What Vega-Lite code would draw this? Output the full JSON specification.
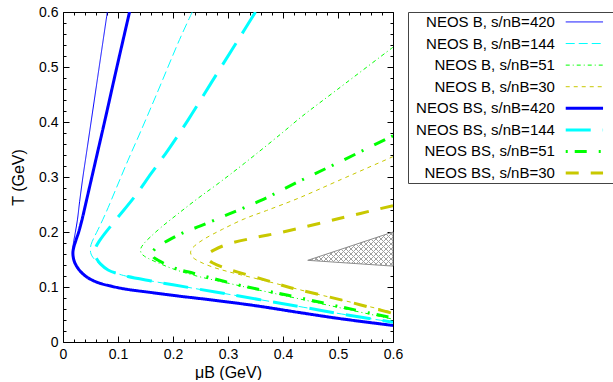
{
  "$schema": "https://vega.github.io/schema/vega-lite/v6.json",
  "padding": {"left": 10, "top": 5, "right": 0, "bottom": 0},
  "config": {
    "font": "Liberation Sans",
    "view": {"stroke": null},
    "axis": {
      "domainColor": "#000",
      "tickColor": "#000",
      "labelColor": "#000",
      "titleColor": "#000",
      "labelFont": "Liberation Sans",
      "titleFont": "Liberation Sans",
      "labelFontSize": 14,
      "titleFontSize": 16,
      "titleFontWeight": "normal",
      "grid": false,
      "labelOverlap": false,
      "labelFlush": false
    }
  },
  "datasets": {
    "curves": [
      {"series": "NEOS B, s/nB=420", "i": 0, "mu": 0.0806, "T": 0.6},
      {"series": "NEOS B, s/nB=420", "i": 1, "mu": 0.0658, "T": 0.5},
      {"series": "NEOS B, s/nB=420", "i": 2, "mu": 0.054, "T": 0.42},
      {"series": "NEOS B, s/nB=420", "i": 3, "mu": 0.0435, "T": 0.349},
      {"series": "NEOS B, s/nB=420", "i": 4, "mu": 0.0362, "T": 0.3},
      {"series": "NEOS B, s/nB=420", "i": 5, "mu": 0.0302, "T": 0.255},
      {"series": "NEOS B, s/nB=420", "i": 6, "mu": 0.0262, "T": 0.222},
      {"series": "NEOS B, s/nB=420", "i": 7, "mu": 0.022, "T": 0.197},
      {"series": "NEOS B, s/nB=420", "i": 8, "mu": 0.019, "T": 0.18},
      {"series": "NEOS B, s/nB=420", "i": 9, "mu": 0.0178, "T": 0.168},
      {"series": "NEOS B, s/nB=420", "i": 10, "mu": 0.018, "T": 0.16},
      {"series": "NEOS B, s/nB=420", "i": 11, "mu": 0.0195, "T": 0.15},
      {"series": "NEOS B, s/nB=420", "i": 12, "mu": 0.024, "T": 0.139},
      {"series": "NEOS B, s/nB=420", "i": 13, "mu": 0.033, "T": 0.127},
      {"series": "NEOS B, s/nB=420", "i": 14, "mu": 0.045, "T": 0.117},
      {"series": "NEOS B, s/nB=420", "i": 15, "mu": 0.0636, "T": 0.108},
      {"series": "NEOS B, s/nB=420", "i": 16, "mu": 0.09, "T": 0.101},
      {"series": "NEOS B, s/nB=420", "i": 17, "mu": 0.115, "T": 0.096},
      {"series": "NEOS B, s/nB=420", "i": 18, "mu": 0.16, "T": 0.09},
      {"series": "NEOS B, s/nB=420", "i": 19, "mu": 0.206, "T": 0.084},
      {"series": "NEOS B, s/nB=420", "i": 20, "mu": 0.27, "T": 0.0765},
      {"series": "NEOS B, s/nB=420", "i": 21, "mu": 0.35, "T": 0.066},
      {"series": "NEOS B, s/nB=420", "i": 22, "mu": 0.427, "T": 0.054},
      {"series": "NEOS B, s/nB=420", "i": 23, "mu": 0.5, "T": 0.043},
      {"series": "NEOS B, s/nB=420", "i": 24, "mu": 0.6, "T": 0.03},

      {"series": "NEOS B, s/nB=144", "i": 0, "mu": 0.235, "T": 0.6},
      {"series": "NEOS B, s/nB=144", "i": 1, "mu": 0.212, "T": 0.55},
      {"series": "NEOS B, s/nB=144", "i": 2, "mu": 0.17, "T": 0.45},
      {"series": "NEOS B, s/nB=144", "i": 3, "mu": 0.14, "T": 0.38},
      {"series": "NEOS B, s/nB=144", "i": 4, "mu": 0.118, "T": 0.33},
      {"series": "NEOS B, s/nB=144", "i": 5, "mu": 0.097, "T": 0.28},
      {"series": "NEOS B, s/nB=144", "i": 6, "mu": 0.078, "T": 0.235},
      {"series": "NEOS B, s/nB=144", "i": 7, "mu": 0.064, "T": 0.205},
      {"series": "NEOS B, s/nB=144", "i": 8, "mu": 0.0555, "T": 0.188},
      {"series": "NEOS B, s/nB=144", "i": 9, "mu": 0.051, "T": 0.177},
      {"series": "NEOS B, s/nB=144", "i": 10, "mu": 0.0497, "T": 0.168},
      {"series": "NEOS B, s/nB=144", "i": 11, "mu": 0.051, "T": 0.16},
      {"series": "NEOS B, s/nB=144", "i": 12, "mu": 0.055, "T": 0.153},
      {"series": "NEOS B, s/nB=144", "i": 13, "mu": 0.062, "T": 0.146},
      {"series": "NEOS B, s/nB=144", "i": 14, "mu": 0.07, "T": 0.139},
      {"series": "NEOS B, s/nB=144", "i": 15, "mu": 0.082, "T": 0.131},
      {"series": "NEOS B, s/nB=144", "i": 16, "mu": 0.1, "T": 0.124},
      {"series": "NEOS B, s/nB=144", "i": 17, "mu": 0.118, "T": 0.119},
      {"series": "NEOS B, s/nB=144", "i": 18, "mu": 0.16, "T": 0.111},
      {"series": "NEOS B, s/nB=144", "i": 19, "mu": 0.2, "T": 0.104},
      {"series": "NEOS B, s/nB=144", "i": 20, "mu": 0.3, "T": 0.087},
      {"series": "NEOS B, s/nB=144", "i": 21, "mu": 0.427, "T": 0.065},
      {"series": "NEOS B, s/nB=144", "i": 22, "mu": 0.5, "T": 0.052},
      {"series": "NEOS B, s/nB=144", "i": 23, "mu": 0.6, "T": 0.036},

      {"series": "NEOS B, s/nB=51", "i": 0, "mu": 0.6, "T": 0.536},
      {"series": "NEOS B, s/nB=51", "i": 1, "mu": 0.5, "T": 0.46},
      {"series": "NEOS B, s/nB=51", "i": 2, "mu": 0.433, "T": 0.409},
      {"series": "NEOS B, s/nB=51", "i": 3, "mu": 0.397, "T": 0.379},
      {"series": "NEOS B, s/nB=51", "i": 4, "mu": 0.33, "T": 0.325},
      {"series": "NEOS B, s/nB=51", "i": 5, "mu": 0.282, "T": 0.288},
      {"series": "NEOS B, s/nB=51", "i": 6, "mu": 0.245, "T": 0.261},
      {"series": "NEOS B, s/nB=51", "i": 7, "mu": 0.209, "T": 0.233},
      {"series": "NEOS B, s/nB=51", "i": 8, "mu": 0.179, "T": 0.209},
      {"series": "NEOS B, s/nB=51", "i": 9, "mu": 0.16, "T": 0.192},
      {"series": "NEOS B, s/nB=51", "i": 10, "mu": 0.148, "T": 0.18},
      {"series": "NEOS B, s/nB=51", "i": 11, "mu": 0.1415, "T": 0.17},
      {"series": "NEOS B, s/nB=51", "i": 12, "mu": 0.142, "T": 0.162},
      {"series": "NEOS B, s/nB=51", "i": 13, "mu": 0.148, "T": 0.156},
      {"series": "NEOS B, s/nB=51", "i": 14, "mu": 0.155, "T": 0.152},
      {"series": "NEOS B, s/nB=51", "i": 15, "mu": 0.175, "T": 0.143},
      {"series": "NEOS B, s/nB=51", "i": 16, "mu": 0.2, "T": 0.133},
      {"series": "NEOS B, s/nB=51", "i": 17, "mu": 0.239, "T": 0.121},
      {"series": "NEOS B, s/nB=51", "i": 18, "mu": 0.3, "T": 0.107},
      {"series": "NEOS B, s/nB=51", "i": 19, "mu": 0.358, "T": 0.094},
      {"series": "NEOS B, s/nB=51", "i": 20, "mu": 0.427, "T": 0.079},
      {"series": "NEOS B, s/nB=51", "i": 21, "mu": 0.5, "T": 0.063},
      {"series": "NEOS B, s/nB=51", "i": 22, "mu": 0.6, "T": 0.0415},

      {"series": "NEOS B, s/nB=30", "i": 0, "mu": 0.6, "T": 0.337},
      {"series": "NEOS B, s/nB=30", "i": 1, "mu": 0.5, "T": 0.293},
      {"series": "NEOS B, s/nB=30", "i": 2, "mu": 0.427, "T": 0.261},
      {"series": "NEOS B, s/nB=30", "i": 3, "mu": 0.37, "T": 0.239},
      {"series": "NEOS B, s/nB=30", "i": 4, "mu": 0.33, "T": 0.224},
      {"series": "NEOS B, s/nB=30", "i": 5, "mu": 0.29, "T": 0.205},
      {"series": "NEOS B, s/nB=30", "i": 6, "mu": 0.258, "T": 0.188},
      {"series": "NEOS B, s/nB=30", "i": 7, "mu": 0.242, "T": 0.177},
      {"series": "NEOS B, s/nB=30", "i": 8, "mu": 0.234, "T": 0.169},
      {"series": "NEOS B, s/nB=30", "i": 9, "mu": 0.232, "T": 0.162},
      {"series": "NEOS B, s/nB=30", "i": 10, "mu": 0.236, "T": 0.154},
      {"series": "NEOS B, s/nB=30", "i": 11, "mu": 0.2485, "T": 0.146},
      {"series": "NEOS B, s/nB=30", "i": 12, "mu": 0.27, "T": 0.137},
      {"series": "NEOS B, s/nB=30", "i": 13, "mu": 0.3, "T": 0.128},
      {"series": "NEOS B, s/nB=30", "i": 14, "mu": 0.3485, "T": 0.116},
      {"series": "NEOS B, s/nB=30", "i": 15, "mu": 0.4, "T": 0.103},
      {"series": "NEOS B, s/nB=30", "i": 16, "mu": 0.45, "T": 0.09},
      {"series": "NEOS B, s/nB=30", "i": 17, "mu": 0.5, "T": 0.078},
      {"series": "NEOS B, s/nB=30", "i": 18, "mu": 0.6, "T": 0.054},

      {"series": "NEOS BS, s/nB=420", "i": 0, "mu": 0.121, "T": 0.6},
      {"series": "NEOS BS, s/nB=420", "i": 1, "mu": 0.098, "T": 0.5},
      {"series": "NEOS BS, s/nB=420", "i": 2, "mu": 0.0755, "T": 0.4},
      {"series": "NEOS BS, s/nB=420", "i": 3, "mu": 0.064, "T": 0.35},
      {"series": "NEOS BS, s/nB=420", "i": 4, "mu": 0.0525, "T": 0.3},
      {"series": "NEOS BS, s/nB=420", "i": 5, "mu": 0.041, "T": 0.25},
      {"series": "NEOS BS, s/nB=420", "i": 6, "mu": 0.0345, "T": 0.222},
      {"series": "NEOS BS, s/nB=420", "i": 7, "mu": 0.0285, "T": 0.2},
      {"series": "NEOS BS, s/nB=420", "i": 8, "mu": 0.0235, "T": 0.185},
      {"series": "NEOS BS, s/nB=420", "i": 9, "mu": 0.0195, "T": 0.172},
      {"series": "NEOS BS, s/nB=420", "i": 10, "mu": 0.018, "T": 0.162},
      {"series": "NEOS BS, s/nB=420", "i": 11, "mu": 0.0195, "T": 0.15},
      {"series": "NEOS BS, s/nB=420", "i": 12, "mu": 0.024, "T": 0.139},
      {"series": "NEOS BS, s/nB=420", "i": 13, "mu": 0.033, "T": 0.127},
      {"series": "NEOS BS, s/nB=420", "i": 14, "mu": 0.045, "T": 0.117},
      {"series": "NEOS BS, s/nB=420", "i": 15, "mu": 0.0636, "T": 0.108},
      {"series": "NEOS BS, s/nB=420", "i": 16, "mu": 0.09, "T": 0.101},
      {"series": "NEOS BS, s/nB=420", "i": 17, "mu": 0.115, "T": 0.096},
      {"series": "NEOS BS, s/nB=420", "i": 18, "mu": 0.16, "T": 0.09},
      {"series": "NEOS BS, s/nB=420", "i": 19, "mu": 0.206, "T": 0.084},
      {"series": "NEOS BS, s/nB=420", "i": 20, "mu": 0.27, "T": 0.0765},
      {"series": "NEOS BS, s/nB=420", "i": 21, "mu": 0.35, "T": 0.066},
      {"series": "NEOS BS, s/nB=420", "i": 22, "mu": 0.427, "T": 0.054},
      {"series": "NEOS BS, s/nB=420", "i": 23, "mu": 0.5, "T": 0.043},
      {"series": "NEOS BS, s/nB=420", "i": 24, "mu": 0.6, "T": 0.03},

      {"series": "NEOS BS, s/nB=144", "i": 0, "mu": 0.35, "T": 0.6},
      {"series": "NEOS BS, s/nB=144", "i": 1, "mu": 0.318, "T": 0.5485},
      {"series": "NEOS BS, s/nB=144", "i": 2, "mu": 0.27, "T": 0.472},
      {"series": "NEOS BS, s/nB=144", "i": 3, "mu": 0.227, "T": 0.403},
      {"series": "NEOS BS, s/nB=144", "i": 4, "mu": 0.191, "T": 0.349},
      {"series": "NEOS BS, s/nB=144", "i": 5, "mu": 0.16, "T": 0.306},
      {"series": "NEOS BS, s/nB=144", "i": 6, "mu": 0.13, "T": 0.264},
      {"series": "NEOS BS, s/nB=144", "i": 7, "mu": 0.1, "T": 0.227},
      {"series": "NEOS BS, s/nB=144", "i": 8, "mu": 0.0758, "T": 0.197},
      {"series": "NEOS BS, s/nB=144", "i": 9, "mu": 0.065, "T": 0.182},
      {"series": "NEOS BS, s/nB=144", "i": 10, "mu": 0.0595, "T": 0.172},
      {"series": "NEOS BS, s/nB=144", "i": 11, "mu": 0.0576, "T": 0.165},
      {"series": "NEOS BS, s/nB=144", "i": 12, "mu": 0.0585, "T": 0.157},
      {"series": "NEOS BS, s/nB=144", "i": 13, "mu": 0.062, "T": 0.15},
      {"series": "NEOS BS, s/nB=144", "i": 14, "mu": 0.068, "T": 0.142},
      {"series": "NEOS BS, s/nB=144", "i": 15, "mu": 0.082, "T": 0.131},
      {"series": "NEOS BS, s/nB=144", "i": 16, "mu": 0.1, "T": 0.124},
      {"series": "NEOS BS, s/nB=144", "i": 17, "mu": 0.118, "T": 0.119},
      {"series": "NEOS BS, s/nB=144", "i": 18, "mu": 0.16, "T": 0.111},
      {"series": "NEOS BS, s/nB=144", "i": 19, "mu": 0.2, "T": 0.104},
      {"series": "NEOS BS, s/nB=144", "i": 20, "mu": 0.3, "T": 0.087},
      {"series": "NEOS BS, s/nB=144", "i": 21, "mu": 0.427, "T": 0.065},
      {"series": "NEOS BS, s/nB=144", "i": 22, "mu": 0.5, "T": 0.052},
      {"series": "NEOS BS, s/nB=144", "i": 23, "mu": 0.6, "T": 0.036},

      {"series": "NEOS BS, s/nB=51", "i": 0, "mu": 0.6, "T": 0.375},
      {"series": "NEOS BS, s/nB=51", "i": 1, "mu": 0.5, "T": 0.326},
      {"series": "NEOS BS, s/nB=51", "i": 2, "mu": 0.427, "T": 0.291},
      {"series": "NEOS BS, s/nB=51", "i": 3, "mu": 0.361, "T": 0.258},
      {"series": "NEOS BS, s/nB=51", "i": 4, "mu": 0.3, "T": 0.232},
      {"series": "NEOS BS, s/nB=51", "i": 5, "mu": 0.25, "T": 0.211},
      {"series": "NEOS BS, s/nB=51", "i": 6, "mu": 0.221, "T": 0.2},
      {"series": "NEOS BS, s/nB=51", "i": 7, "mu": 0.197, "T": 0.188},
      {"series": "NEOS BS, s/nB=51", "i": 8, "mu": 0.178, "T": 0.177},
      {"series": "NEOS BS, s/nB=51", "i": 9, "mu": 0.167, "T": 0.169},
      {"series": "NEOS BS, s/nB=51", "i": 10, "mu": 0.1625, "T": 0.161},
      {"series": "NEOS BS, s/nB=51", "i": 11, "mu": 0.165, "T": 0.154},
      {"series": "NEOS BS, s/nB=51", "i": 12, "mu": 0.173, "T": 0.1485},
      {"series": "NEOS BS, s/nB=51", "i": 13, "mu": 0.19, "T": 0.14},
      {"series": "NEOS BS, s/nB=51", "i": 14, "mu": 0.207, "T": 0.133},
      {"series": "NEOS BS, s/nB=51", "i": 15, "mu": 0.237, "T": 0.125},
      {"series": "NEOS BS, s/nB=51", "i": 16, "mu": 0.267, "T": 0.117},
      {"series": "NEOS BS, s/nB=51", "i": 17, "mu": 0.318, "T": 0.104},
      {"series": "NEOS BS, s/nB=51", "i": 18, "mu": 0.3545, "T": 0.096},
      {"series": "NEOS BS, s/nB=51", "i": 19, "mu": 0.409, "T": 0.085},
      {"series": "NEOS BS, s/nB=51", "i": 20, "mu": 0.5, "T": 0.065},
      {"series": "NEOS BS, s/nB=51", "i": 21, "mu": 0.6, "T": 0.0435},

      {"series": "NEOS BS, s/nB=30", "i": 0, "mu": 0.6, "T": 0.248},
      {"series": "NEOS BS, s/nB=30", "i": 1, "mu": 0.5, "T": 0.224},
      {"series": "NEOS BS, s/nB=30", "i": 2, "mu": 0.4, "T": 0.2},
      {"series": "NEOS BS, s/nB=30", "i": 3, "mu": 0.35, "T": 0.19},
      {"series": "NEOS BS, s/nB=30", "i": 4, "mu": 0.3, "T": 0.178},
      {"series": "NEOS BS, s/nB=30", "i": 5, "mu": 0.276, "T": 0.168},
      {"series": "NEOS BS, s/nB=30", "i": 6, "mu": 0.2655, "T": 0.161},
      {"series": "NEOS BS, s/nB=30", "i": 7, "mu": 0.2625, "T": 0.154},
      {"series": "NEOS BS, s/nB=30", "i": 8, "mu": 0.266, "T": 0.148},
      {"series": "NEOS BS, s/nB=30", "i": 9, "mu": 0.2727, "T": 0.1436},
      {"series": "NEOS BS, s/nB=30", "i": 10, "mu": 0.29, "T": 0.136},
      {"series": "NEOS BS, s/nB=30", "i": 11, "mu": 0.318, "T": 0.127},
      {"series": "NEOS BS, s/nB=30", "i": 12, "mu": 0.367, "T": 0.113},
      {"series": "NEOS BS, s/nB=30", "i": 13, "mu": 0.409, "T": 0.1},
      {"series": "NEOS BS, s/nB=30", "i": 14, "mu": 0.5, "T": 0.078},
      {"series": "NEOS BS, s/nB=30", "i": 15, "mu": 0.6, "T": 0.052}
    ],
    "region": [
      {"mu": 0.445, "lo": 0.1485, "hi": 0.1485},
      {"mu": 0.6, "lo": 0.138, "hi": 0.2}
    ]
  },
  "hconcat": [
    {
      "width": 330,
      "height": 330,
      "resolve": {"axis": {"x": "independent", "y": "independent"}},
      "layer": [
        {
          "data": {"name": "region"},
          "mark": {
            "type": "area", "stroke": "#8c8c8c", "strokeWidth": 1,
            "fill": {
              "gradient": "linear", "x1": 0, "y1": 0, "x2": 1.207, "y2": 0.483,
              "stops": [
                {"offset": 0, "color": "#a0a0a0"}, {"offset": 0.012, "color": "#a0a0a0"}, {"offset": 0.012, "color": "#ffffff"}, {"offset": 0.0417, "color": "#ffffff"},
                {"offset": 0.0417, "color": "#a0a0a0"}, {"offset": 0.0537, "color": "#a0a0a0"}, {"offset": 0.0537, "color": "#ffffff"}, {"offset": 0.0833, "color": "#ffffff"},
                {"offset": 0.0833, "color": "#a0a0a0"}, {"offset": 0.0953, "color": "#a0a0a0"}, {"offset": 0.0953, "color": "#ffffff"}, {"offset": 0.125, "color": "#ffffff"},
                {"offset": 0.125, "color": "#a0a0a0"}, {"offset": 0.137, "color": "#a0a0a0"}, {"offset": 0.137, "color": "#ffffff"}, {"offset": 0.1667, "color": "#ffffff"},
                {"offset": 0.1667, "color": "#a0a0a0"}, {"offset": 0.1787, "color": "#a0a0a0"}, {"offset": 0.1787, "color": "#ffffff"}, {"offset": 0.2083, "color": "#ffffff"},
                {"offset": 0.2083, "color": "#a0a0a0"}, {"offset": 0.2203, "color": "#a0a0a0"}, {"offset": 0.2203, "color": "#ffffff"}, {"offset": 0.25, "color": "#ffffff"},
                {"offset": 0.25, "color": "#a0a0a0"}, {"offset": 0.262, "color": "#a0a0a0"}, {"offset": 0.262, "color": "#ffffff"}, {"offset": 0.2917, "color": "#ffffff"},
                {"offset": 0.2917, "color": "#a0a0a0"}, {"offset": 0.3037, "color": "#a0a0a0"}, {"offset": 0.3037, "color": "#ffffff"}, {"offset": 0.3333, "color": "#ffffff"},
                {"offset": 0.3333, "color": "#a0a0a0"}, {"offset": 0.3453, "color": "#a0a0a0"}, {"offset": 0.3453, "color": "#ffffff"}, {"offset": 0.375, "color": "#ffffff"},
                {"offset": 0.375, "color": "#a0a0a0"}, {"offset": 0.387, "color": "#a0a0a0"}, {"offset": 0.387, "color": "#ffffff"}, {"offset": 0.4167, "color": "#ffffff"},
                {"offset": 0.4167, "color": "#a0a0a0"}, {"offset": 0.4287, "color": "#a0a0a0"}, {"offset": 0.4287, "color": "#ffffff"}, {"offset": 0.4583, "color": "#ffffff"},
                {"offset": 0.4583, "color": "#a0a0a0"}, {"offset": 0.4703, "color": "#a0a0a0"}, {"offset": 0.4703, "color": "#ffffff"}, {"offset": 0.5, "color": "#ffffff"},
                {"offset": 0.5, "color": "#a0a0a0"}, {"offset": 0.512, "color": "#a0a0a0"}, {"offset": 0.512, "color": "#ffffff"}, {"offset": 0.5417, "color": "#ffffff"},
                {"offset": 0.5417, "color": "#a0a0a0"}, {"offset": 0.5537, "color": "#a0a0a0"}, {"offset": 0.5537, "color": "#ffffff"}, {"offset": 0.5833, "color": "#ffffff"},
                {"offset": 0.5833, "color": "#a0a0a0"}, {"offset": 0.5953, "color": "#a0a0a0"}, {"offset": 0.5953, "color": "#ffffff"}, {"offset": 0.625, "color": "#ffffff"},
                {"offset": 0.625, "color": "#a0a0a0"}, {"offset": 0.637, "color": "#a0a0a0"}, {"offset": 0.637, "color": "#ffffff"}, {"offset": 0.6667, "color": "#ffffff"},
                {"offset": 0.6667, "color": "#a0a0a0"}, {"offset": 0.6787, "color": "#a0a0a0"}, {"offset": 0.6787, "color": "#ffffff"}, {"offset": 0.7083, "color": "#ffffff"},
                {"offset": 0.7083, "color": "#a0a0a0"}, {"offset": 0.7203, "color": "#a0a0a0"}, {"offset": 0.7203, "color": "#ffffff"}, {"offset": 0.75, "color": "#ffffff"},
                {"offset": 0.75, "color": "#a0a0a0"}, {"offset": 0.762, "color": "#a0a0a0"}, {"offset": 0.762, "color": "#ffffff"}, {"offset": 0.7917, "color": "#ffffff"},
                {"offset": 0.7917, "color": "#a0a0a0"}, {"offset": 0.8037, "color": "#a0a0a0"}, {"offset": 0.8037, "color": "#ffffff"}, {"offset": 0.8333, "color": "#ffffff"},
                {"offset": 0.8333, "color": "#a0a0a0"}, {"offset": 0.8453, "color": "#a0a0a0"}, {"offset": 0.8453, "color": "#ffffff"}, {"offset": 0.875, "color": "#ffffff"},
                {"offset": 0.875, "color": "#a0a0a0"}, {"offset": 0.887, "color": "#a0a0a0"}, {"offset": 0.887, "color": "#ffffff"}, {"offset": 0.9167, "color": "#ffffff"},
                {"offset": 0.9167, "color": "#a0a0a0"}, {"offset": 0.9287, "color": "#a0a0a0"}, {"offset": 0.9287, "color": "#ffffff"}, {"offset": 0.9583, "color": "#ffffff"},
                {"offset": 0.9583, "color": "#a0a0a0"}, {"offset": 0.9703, "color": "#a0a0a0"}, {"offset": 0.9703, "color": "#ffffff"}, {"offset": 1, "color": "#ffffff"}
              ]
            }
          },
          "encoding": {
            "x": {
              "field": "mu", "type": "quantitative",
              "scale": {"domain": [0, 0.6], "nice": false},
              "axis": {
                "orient": "top", "title": null, "labels": false,
                "values": [0,0.02,0.04,0.06,0.08,0.1,0.12,0.14,0.16,0.18,0.2,0.22,0.24,0.26,0.28,0.3,0.32,0.34,0.36,0.38,0.4,0.42,0.44,0.46,0.48,0.5,0.52,0.54,0.56,0.58,0.6],
                "tickSize": {"condition": {"test": "abs(datum.value*10-round(datum.value*10))<0.001", "value": -6}, "value": -3}
              }
            },
            "y": {
              "field": "lo", "type": "quantitative",
              "scale": {"domain": [0, 0.6], "nice": false},
              "axis": {
                "orient": "right", "title": null, "labels": false,
                "values": [0,0.02,0.04,0.06,0.08,0.1,0.12,0.14,0.16,0.18,0.2,0.22,0.24,0.26,0.28,0.3,0.32,0.34,0.36,0.38,0.4,0.42,0.44,0.46,0.48,0.5,0.52,0.54,0.56,0.58,0.6],
                "tickSize": {"condition": {"test": "abs(datum.value*10-round(datum.value*10))<0.001", "value": -6}, "value": -3}
              }
            },
            "y2": {"field": "hi"}
          }
        },
        {
          "data": {"name": "region"},
          "mark": {
            "type": "area", "strokeWidth": 0,
            "fill": {
              "gradient": "linear", "x1": 0, "y1": 1, "x2": 1.207, "y2": 0.517,
              "stops": [
                {"offset": 0, "color": "#a0a0a0"}, {"offset": 0.012, "color": "#a0a0a0"}, {"offset": 0.012, "color": "rgba(255,255,255,0)"}, {"offset": 0.0417, "color": "rgba(255,255,255,0)"},
                {"offset": 0.0417, "color": "#a0a0a0"}, {"offset": 0.0537, "color": "#a0a0a0"}, {"offset": 0.0537, "color": "rgba(255,255,255,0)"}, {"offset": 0.0833, "color": "rgba(255,255,255,0)"},
                {"offset": 0.0833, "color": "#a0a0a0"}, {"offset": 0.0953, "color": "#a0a0a0"}, {"offset": 0.0953, "color": "rgba(255,255,255,0)"}, {"offset": 0.125, "color": "rgba(255,255,255,0)"},
                {"offset": 0.125, "color": "#a0a0a0"}, {"offset": 0.137, "color": "#a0a0a0"}, {"offset": 0.137, "color": "rgba(255,255,255,0)"}, {"offset": 0.1667, "color": "rgba(255,255,255,0)"},
                {"offset": 0.1667, "color": "#a0a0a0"}, {"offset": 0.1787, "color": "#a0a0a0"}, {"offset": 0.1787, "color": "rgba(255,255,255,0)"}, {"offset": 0.2083, "color": "rgba(255,255,255,0)"},
                {"offset": 0.2083, "color": "#a0a0a0"}, {"offset": 0.2203, "color": "#a0a0a0"}, {"offset": 0.2203, "color": "rgba(255,255,255,0)"}, {"offset": 0.25, "color": "rgba(255,255,255,0)"},
                {"offset": 0.25, "color": "#a0a0a0"}, {"offset": 0.262, "color": "#a0a0a0"}, {"offset": 0.262, "color": "rgba(255,255,255,0)"}, {"offset": 0.2917, "color": "rgba(255,255,255,0)"},
                {"offset": 0.2917, "color": "#a0a0a0"}, {"offset": 0.3037, "color": "#a0a0a0"}, {"offset": 0.3037, "color": "rgba(255,255,255,0)"}, {"offset": 0.3333, "color": "rgba(255,255,255,0)"},
                {"offset": 0.3333, "color": "#a0a0a0"}, {"offset": 0.3453, "color": "#a0a0a0"}, {"offset": 0.3453, "color": "rgba(255,255,255,0)"}, {"offset": 0.375, "color": "rgba(255,255,255,0)"},
                {"offset": 0.375, "color": "#a0a0a0"}, {"offset": 0.387, "color": "#a0a0a0"}, {"offset": 0.387, "color": "rgba(255,255,255,0)"}, {"offset": 0.4167, "color": "rgba(255,255,255,0)"},
                {"offset": 0.4167, "color": "#a0a0a0"}, {"offset": 0.4287, "color": "#a0a0a0"}, {"offset": 0.4287, "color": "rgba(255,255,255,0)"}, {"offset": 0.4583, "color": "rgba(255,255,255,0)"},
                {"offset": 0.4583, "color": "#a0a0a0"}, {"offset": 0.4703, "color": "#a0a0a0"}, {"offset": 0.4703, "color": "rgba(255,255,255,0)"}, {"offset": 0.5, "color": "rgba(255,255,255,0)"},
                {"offset": 0.5, "color": "#a0a0a0"}, {"offset": 0.512, "color": "#a0a0a0"}, {"offset": 0.512, "color": "rgba(255,255,255,0)"}, {"offset": 0.5417, "color": "rgba(255,255,255,0)"},
                {"offset": 0.5417, "color": "#a0a0a0"}, {"offset": 0.5537, "color": "#a0a0a0"}, {"offset": 0.5537, "color": "rgba(255,255,255,0)"}, {"offset": 0.5833, "color": "rgba(255,255,255,0)"},
                {"offset": 0.5833, "color": "#a0a0a0"}, {"offset": 0.5953, "color": "#a0a0a0"}, {"offset": 0.5953, "color": "rgba(255,255,255,0)"}, {"offset": 0.625, "color": "rgba(255,255,255,0)"},
                {"offset": 0.625, "color": "#a0a0a0"}, {"offset": 0.637, "color": "#a0a0a0"}, {"offset": 0.637, "color": "rgba(255,255,255,0)"}, {"offset": 0.6667, "color": "rgba(255,255,255,0)"},
                {"offset": 0.6667, "color": "#a0a0a0"}, {"offset": 0.6787, "color": "#a0a0a0"}, {"offset": 0.6787, "color": "rgba(255,255,255,0)"}, {"offset": 0.7083, "color": "rgba(255,255,255,0)"},
                {"offset": 0.7083, "color": "#a0a0a0"}, {"offset": 0.7203, "color": "#a0a0a0"}, {"offset": 0.7203, "color": "rgba(255,255,255,0)"}, {"offset": 0.75, "color": "rgba(255,255,255,0)"},
                {"offset": 0.75, "color": "#a0a0a0"}, {"offset": 0.762, "color": "#a0a0a0"}, {"offset": 0.762, "color": "rgba(255,255,255,0)"}, {"offset": 0.7917, "color": "rgba(255,255,255,0)"},
                {"offset": 0.7917, "color": "#a0a0a0"}, {"offset": 0.8037, "color": "#a0a0a0"}, {"offset": 0.8037, "color": "rgba(255,255,255,0)"}, {"offset": 0.8333, "color": "rgba(255,255,255,0)"},
                {"offset": 0.8333, "color": "#a0a0a0"}, {"offset": 0.8453, "color": "#a0a0a0"}, {"offset": 0.8453, "color": "rgba(255,255,255,0)"}, {"offset": 0.875, "color": "rgba(255,255,255,0)"},
                {"offset": 0.875, "color": "#a0a0a0"}, {"offset": 0.887, "color": "#a0a0a0"}, {"offset": 0.887, "color": "rgba(255,255,255,0)"}, {"offset": 0.9167, "color": "rgba(255,255,255,0)"},
                {"offset": 0.9167, "color": "#a0a0a0"}, {"offset": 0.9287, "color": "#a0a0a0"}, {"offset": 0.9287, "color": "rgba(255,255,255,0)"}, {"offset": 0.9583, "color": "rgba(255,255,255,0)"},
                {"offset": 0.9583, "color": "#a0a0a0"}, {"offset": 0.9703, "color": "#a0a0a0"}, {"offset": 0.9703, "color": "rgba(255,255,255,0)"}, {"offset": 1, "color": "rgba(255,255,255,0)"}
              ]
            }
          },
          "encoding": {
            "x": {"field": "mu", "type": "quantitative", "scale": {"domain": [0, 0.6], "nice": false}, "axis": null},
            "y": {"field": "lo", "type": "quantitative", "scale": {"domain": [0, 0.6], "nice": false}, "axis": null},
            "y2": {"field": "hi"}
          }
        },
        {
          "data": {"name": "curves"},
          "transform": [{"filter": "indexof(datum.series, 'NEOS BS') < 0"}],
          "mark": {"type": "line", "strokeWidth": 1, "interpolate": "catmull-rom", "clip": true},
          "encoding": {
            "x": {
              "field": "mu", "type": "quantitative",
              "scale": {"domain": [0, 0.6], "nice": false},
              "axis": {
                "orient": "bottom", "title": "μB (GeV)", "titlePadding": 0,
                "labelPadding": 11,
                "values": [0,0.02,0.04,0.06,0.08,0.1,0.12,0.14,0.16,0.18,0.2,0.22,0.24,0.26,0.28,0.3,0.32,0.34,0.36,0.38,0.4,0.42,0.44,0.46,0.48,0.5,0.52,0.54,0.56,0.58,0.6],
                "labelExpr": "abs(datum.value*10-round(datum.value*10))<0.001 ? format(datum.value, '~g') : ''",
                "tickSize": {"condition": {"test": "abs(datum.value*10-round(datum.value*10))<0.001", "value": -6}, "value": -3}
              }
            },
            "y": {
              "field": "T", "type": "quantitative",
              "scale": {"domain": [0, 0.6], "nice": false},
              "axis": {
                "orient": "left", "title": "T (GeV)", "titlePadding": 12,
                "labelPadding": 11,
                "values": [0,0.02,0.04,0.06,0.08,0.1,0.12,0.14,0.16,0.18,0.2,0.22,0.24,0.26,0.28,0.3,0.32,0.34,0.36,0.38,0.4,0.42,0.44,0.46,0.48,0.5,0.52,0.54,0.56,0.58,0.6],
                "labelExpr": "abs(datum.value*10-round(datum.value*10))<0.001 ? format(datum.value, '~g') : ''",
                "tickSize": {"condition": {"test": "abs(datum.value*10-round(datum.value*10))<0.001", "value": -6}, "value": -3}
              }
            },
            "order": {"field": "i", "type": "quantitative"},
            "color": {
              "field": "series", "type": "nominal", "legend": null,
              "scale": {
                "domain": ["NEOS B, s/nB=420", "NEOS B, s/nB=144", "NEOS B, s/nB=51", "NEOS B, s/nB=30", "NEOS BS, s/nB=420", "NEOS BS, s/nB=144", "NEOS BS, s/nB=51", "NEOS BS, s/nB=30"],
                "range": ["#0000ff", "#00ffff", "#00ff00", "#c8c800", "#0000ff", "#00ffff", "#00ff00", "#c8c800"]
              }
            },
            "strokeDash": {
              "field": "series", "type": "nominal", "legend": null,
              "scale": {
                "domain": ["NEOS B, s/nB=420", "NEOS B, s/nB=144", "NEOS B, s/nB=51", "NEOS B, s/nB=30", "NEOS BS, s/nB=420", "NEOS BS, s/nB=144", "NEOS BS, s/nB=51", "NEOS BS, s/nB=30"],
                "range": [[1, 0], [9, 4], [4, 3, 1, 3], [4, 4], [1, 0], [25, 12], [2, 7, 12, 12], [13, 12]]
              }
            }
          }
        },
        {
          "data": {"name": "curves"},
          "transform": [{"filter": "indexof(datum.series, 'NEOS BS') === 0"}],
          "mark": {"type": "line", "strokeWidth": 3, "interpolate": "catmull-rom", "clip": true},
          "encoding": {
            "x": {"field": "mu", "type": "quantitative", "scale": {"domain": [0, 0.6], "nice": false}, "axis": null},
            "y": {"field": "T", "type": "quantitative", "scale": {"domain": [0, 0.6], "nice": false}, "axis": null},
            "order": {"field": "i", "type": "quantitative"},
            "color": {
              "field": "series", "type": "nominal", "legend": null,
              "scale": {
                "domain": ["NEOS B, s/nB=420", "NEOS B, s/nB=144", "NEOS B, s/nB=51", "NEOS B, s/nB=30", "NEOS BS, s/nB=420", "NEOS BS, s/nB=144", "NEOS BS, s/nB=51", "NEOS BS, s/nB=30"],
                "range": ["#0000ff", "#00ffff", "#00ff00", "#c8c800", "#0000ff", "#00ffff", "#00ff00", "#c8c800"]
              }
            },
            "strokeDash": {
              "field": "series", "type": "nominal", "legend": null,
              "scale": {
                "domain": ["NEOS B, s/nB=420", "NEOS B, s/nB=144", "NEOS B, s/nB=51", "NEOS B, s/nB=30", "NEOS BS, s/nB=420", "NEOS BS, s/nB=144", "NEOS BS, s/nB=51", "NEOS BS, s/nB=30"],
                "range": [[1, 0], [9, 4], [4, 3, 1, 3], [4, 4], [1, 0], [25, 12], [2, 7, 12, 12], [13, 12]]
              }
            }
          }
        }
      ]
    },
    {
      "width": 212,
      "height": 171,
      "view": {"stroke": "#444", "strokeWidth": 1},
      "data": {"name": "curves"},
      "transform": [{"aggregate": [{"op": "count", "as": "n"}], "groupby": ["series"]}],
      "layer": [
        {
          "mark": {"type": "text", "align": "right", "baseline": "middle", "fontSize": 15, "font": "Liberation Sans", "color": "#000"},
          "encoding": {
            "x": {"datum": 0.693, "type": "quantitative", "scale": {"domain": [0, 1], "nice": false}, "axis": null},
            "y": {
              "field": "series", "type": "nominal", "axis": null,
              "sort": ["NEOS B, s/nB=420", "NEOS B, s/nB=144", "NEOS B, s/nB=51", "NEOS B, s/nB=30", "NEOS BS, s/nB=420", "NEOS BS, s/nB=144", "NEOS BS, s/nB=51", "NEOS BS, s/nB=30"],
              "scale": {"type": "point", "padding": 0.46}
            },
            "text": {"field": "series"}
          }
        },
        {
          "mark": {"type": "rule"},
          "encoding": {
            "x": {"datum": 0.744, "type": "quantitative", "scale": {"domain": [0, 1], "nice": false}, "axis": null},
            "x2": {"datum": 0.92},
            "y": {
              "field": "series", "type": "nominal", "axis": null,
              "sort": ["NEOS B, s/nB=420", "NEOS B, s/nB=144", "NEOS B, s/nB=51", "NEOS B, s/nB=30", "NEOS BS, s/nB=420", "NEOS BS, s/nB=144", "NEOS BS, s/nB=51", "NEOS BS, s/nB=30"],
              "scale": {"type": "point", "padding": 0.46}
            },
            "color": {
              "field": "series", "type": "nominal", "legend": null,
              "scale": {
                "domain": ["NEOS B, s/nB=420", "NEOS B, s/nB=144", "NEOS B, s/nB=51", "NEOS B, s/nB=30", "NEOS BS, s/nB=420", "NEOS BS, s/nB=144", "NEOS BS, s/nB=51", "NEOS BS, s/nB=30"],
                "range": ["#0000ff", "#00ffff", "#00ff00", "#c8c800", "#0000ff", "#00ffff", "#00ff00", "#c8c800"]
              }
            },
            "strokeDash": {
              "field": "series", "type": "nominal", "legend": null,
              "scale": {
                "domain": ["NEOS B, s/nB=420", "NEOS B, s/nB=144", "NEOS B, s/nB=51", "NEOS B, s/nB=30", "NEOS BS, s/nB=420", "NEOS BS, s/nB=144", "NEOS BS, s/nB=51", "NEOS BS, s/nB=30"],
                "range": [[1, 0], [9, 4], [4, 3, 1, 3], [4, 4], [1, 0], [25, 12], [2, 7, 12, 12], [13, 12]]
              }
            },
            "strokeWidth": {"condition": {"test": "indexof(datum.series, 'NEOS BS') === 0", "value": 3}, "value": 1}
          }
        }
      ]
    }
  ],
  "spacing": 4
}
